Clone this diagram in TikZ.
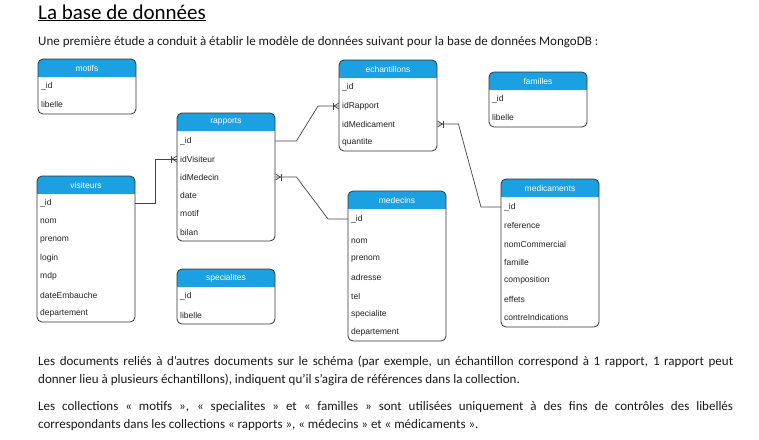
\documentclass[tikz,border=0pt]{standalone}
\usepackage{fontspec}
\setmainfont{Carlito}
\newfontfamily\diagfont{Liberation Sans}
\usetikzlibrary{calc}
\definecolor{hdr}{HTML}{1BA1E2}
\definecolor{boxline}{HTML}{333333}
\definecolor{connline}{HTML}{444444}
\definecolor{txt}{HTML}{1A1A1A}
\definecolor{ftxt}{HTML}{222222}
\newcommand\entity[5]{% name, x1, top, bottom, title
  \fill[white, rounded corners=5pt] (#2,#3) rectangle (#2+98,#4);
  \fill[hdr, rounded corners=5pt] (#2,#3) rectangle (#2+98,#3+18);
  \fill[hdr] (#2,#3+8) rectangle (#2+98,#3+18);
  \draw[boxline, line width=0.8pt, rounded corners=5pt] (#2,#3) rectangle (#2+98,#4);
  \node[etitle] (#1) at (#2+49,#3+9) {#5};
}
\newcommand\fld[4]{\node[field] (#1) at (#2,#3) {#4};}
\newcommand\crow[2]{%
  \draw[conn] ($(#1)+(#2*5,0)$) -- ($(#1)+(0,3)$);
  \draw[conn] ($(#1)+(#2*5,0)$) -- ($(#1)+(0,-3)$);
  \draw[conn] ($(#1)+(#2*6,-3.5)$) -- ($(#1)+(#2*6,3.5)$);
}
\begin{document}
\begin{tikzpicture}[x=1pt,y=-1pt,
  etitle/.style={inner sep=0pt, text=white, font=\diagfont\fontsize{8.5}{10}\selectfont},
  field/.style={anchor=west, inner xsep=3pt, inner ysep=0pt, text width=92pt, align=left,
     text=ftxt, font=\diagfont\fontsize{8.5}{10}\selectfont},
  conn/.style={draw=connline, line width=0.7pt},
  prose/.style={text=txt, font=\fontsize{13}{18}\selectfont}]
\fill[white] (0,0) rectangle (759,439);
\useasboundingbox (0,0) rectangle (759,439);

\node[prose, anchor=base west, text=black, font=\fontsize{21}{25}\selectfont, inner sep=0pt] (title) at (38,19) {\underline{La base de données}};
\node[prose, anchor=base west, inner sep=0pt] (sub) at (38,45) {Une première étude a conduit à établir le modèle de données suivant pour la base de données MongoDB :};

% motifs
\entity{mot}{38}{59}{114}{motifs}
\fld{mot-id}{38}{86}{\_id}
\fld{mot-lib}{38}{104}{libelle}

% echantillons
\entity{ech}{339}{60}{151}{echantillons}
\fld{ech-id}{339}{87}{\_id}
\fld{ech-idr}{339}{106}{idRapport}
\fld{ech-idm}{339}{124}{idMedicament}
\fld{ech-qte}{339}{142}{quantite}

% familles
\entity{fam}{489}{72}{127}{familles}
\fld{fam-id}{489}{99}{\_id}
\fld{fam-lib}{489}{117}{libelle}

% rapports
\entity{rap}{177}{113}{241}{rapports}
\fld{rap-id}{177}{141}{\_id}
\fld{rap-idv}{177}{159}{idVisiteur}
\fld{rap-idm}{177}{177}{idMedecin}
\fld{rap-date}{177}{195}{date}
\fld{rap-motif}{177}{213}{motif}
\fld{rap-bilan}{177}{232}{bilan}

% visiteurs
\entity{vis}{37}{176}{322}{visiteurs}
\fld{vis-id}{37}{203}{\_id}
\fld{vis-nom}{37}{221}{nom}
\fld{vis-pre}{37}{240}{prenom}
\fld{vis-log}{37}{258}{login}
\fld{vis-mdp}{37}{276}{mdp}
\fld{vis-dte}{37}{295}{dateEmbauche}
\fld{vis-dep}{37}{313}{departement}

% specialites
\entity{spe}{177}{269}{324}{specialites}
\fld{spe-id}{177}{296}{\_id}
\fld{spe-lib}{177}{315}{libelle}

% medecins
\entity{med}{348}{191}{341}{medecins}
\fld{med-id}{348}{219}{\_id}
\fld{med-nom}{348}{241}{nom}
\fld{med-pre}{348}{259}{prenom}
\fld{med-adr}{348}{277}{adresse}
\fld{med-tel}{348}{296}{tel}
\fld{med-spe}{348}{314}{specialite}
\fld{med-dep}{348}{332}{departement}

% medicaments
\entity{mdc}{501}{179}{327}{medicaments}
\fld{mdc-id}{501}{207}{\_id}
\fld{mdc-ref}{501}{225}{reference}
\fld{mdc-nom}{501}{244}{nomCommercial}
\fld{mdc-fam}{501}{262}{famille}
\fld{mdc-comp}{501}{280}{composition}
\fld{mdc-eff}{501}{299}{effets}
\fld{mdc-ci}{501}{317}{contreIndications}

% connectors
\draw[conn] (vis-id.east) -- ++(20,0) |- (rap-idv.west);
\crow{rap-idv.west}{-1}
\draw[conn] (rap-id.east) -- ++(21,0) -- ($(ech-idr.west)+(-21,0)$) -- (ech-idr.west);
\crow{ech-idr.west}{-1}
\draw[conn] (rap-idm.east) -- ++(21,0) -- ($(med-id.west)+(-20,0)$) -- (med-id.west);
\crow{rap-idm.east}{1}
\draw[conn] (ech-idm.east) -- ++(21,0) -- ($(mdc-id.west)+(-20,0)$) -- (mdc-id.west);
\crow{ech-idm.east}{1}

% text
\node[prose, anchor=base west, inner sep=0pt, text width=695pt, align=justify] (p1) at (38,365)
 {Les documents reliés à d’autres documents sur le schéma (par exemple, un échantillon correspond à 1 rapport, 1 rapport peut\linebreak donner lieu à plusieurs échantillons), indiquent qu’il s’agira de références dans la collection.};
\node[prose, anchor=base west, inner sep=0pt, text width=695pt, align=justify] (p2) at (38,410)
 {Les collections «~motifs~», «~specialites~» et «~familles~» sont utilisées uniquement à des fins de contrôles des libellés\linebreak correspondants dans les collections «~rapports~», «~médecins~» et «~médicaments~».};
\end{tikzpicture}
\end{document}
